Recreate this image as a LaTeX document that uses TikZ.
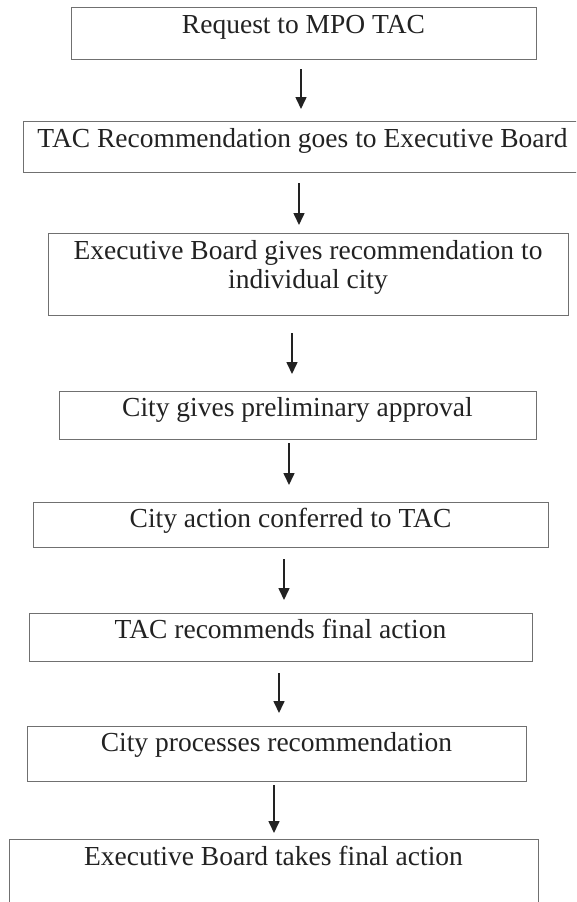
\documentclass[tikz,border=0pt]{standalone}
\usepackage{fontspec}
\setmainfont{Liberation Serif}
\usetikzlibrary{arrows.meta}

\definecolor{framegray}{HTML}{707070}
\definecolor{inkdark}{HTML}{222222}

\tikzset{
  box/.style={draw=framegray, line width=1pt, rectangle, inner sep=0pt, outer sep=0pt},
  lbl/.style={text=inkdark, inner sep=0pt, anchor=base,
              font=\fontsize{27.5}{29}\selectfont},
  flow/.style={draw=inkdark, line width=1.6pt,
               -{Triangle[length=12pt,width=11pt]}}
}

\begin{document}
\begin{tikzpicture}[x=1pt,y=1pt]
  \useasboundingbox (0,0) rectangle (576,-902);
  \clip (0,0) rectangle (576,-902);

  % process steps
  \node[box, minimum width=465pt, minimum height=52pt] (b1) at (303.5,-33)   {};
  \node[box, minimum width=559pt, minimum height=51pt] (b2) at (302.5,-146.5) {};
  \node[box, minimum width=520pt, minimum height=82pt] (b3) at (308,-274)    {};
  \node[box, minimum width=477pt, minimum height=48pt] (b4) at (297.5,-415)  {};
  \node[box, minimum width=515pt, minimum height=45pt] (b5) at (290.5,-524.5) {};
  \node[box, minimum width=503pt, minimum height=48pt] (b6) at (280.5,-637)  {};
  \node[box, minimum width=499pt, minimum height=55pt] (b7) at (276.5,-753.5) {};
  \node[box, minimum width=529pt, minimum height=80pt] (b8) at (273.5,-879)  {};

  % step texts, set near the top of each box
  \node[lbl] (t1)  at ([yshift=-26pt]b1.north) {Request to MPO TAC};
  \node[lbl] (t2)  at ([yshift=-26pt]b2.north) {TAC Recommendation goes to Executive Board};
  \node[lbl] (t3a) at ([yshift=-26pt]b3.north) {Executive Board gives recommendation to};
  \node[lbl] (t3b) at ([yshift=-55pt]b3.north) {individual city};
  \node[lbl] (t4)  at ([yshift=-25pt]b4.north) {City gives preliminary approval};
  \node[lbl] (t5)  at ([yshift=-25pt]b5.north) {City action conferred to TAC};
  \node[lbl] (t6)  at ([yshift=-25pt]b6.north) {TAC recommends final action};
  \node[lbl] (t7)  at ([yshift=-25pt]b7.north) {City processes recommendation};
  \node[lbl] (t8)  at ([yshift=-26pt]b8.north) {Executive Board takes final action};

  % arrows between steps
  \draw[flow] ([xshift=-2.5pt,yshift=-10pt]b1.south) -- ([xshift=-1.5pt,yshift=12pt]b2.north);
  \draw[flow] ([xshift=-3.5pt,yshift=-11pt]b2.south) -- ([xshift=-9pt,yshift=8pt]b3.north);
  \draw[flow] ([xshift=-16pt,yshift=-18pt]b3.south) -- ([xshift=-5.5pt,yshift=17pt]b4.north);
  \draw[flow] ([xshift=-8.5pt,yshift=-4pt]b4.south) -- ([xshift=-1.5pt,yshift=17pt]b5.north);
  \draw[flow] ([xshift=-6.5pt,yshift=-12pt]b5.south) -- ([xshift=3.5pt,yshift=13pt]b6.north);
  \draw[flow] ([xshift=-1.5pt,yshift=-12pt]b6.south) -- ([xshift=2.5pt,yshift=13pt]b7.north);
  \draw[flow] ([xshift=-2.5pt,yshift=-4pt]b7.south) -- ([xshift=0.5pt,yshift=6pt]b8.north);
\end{tikzpicture}
\end{document}
